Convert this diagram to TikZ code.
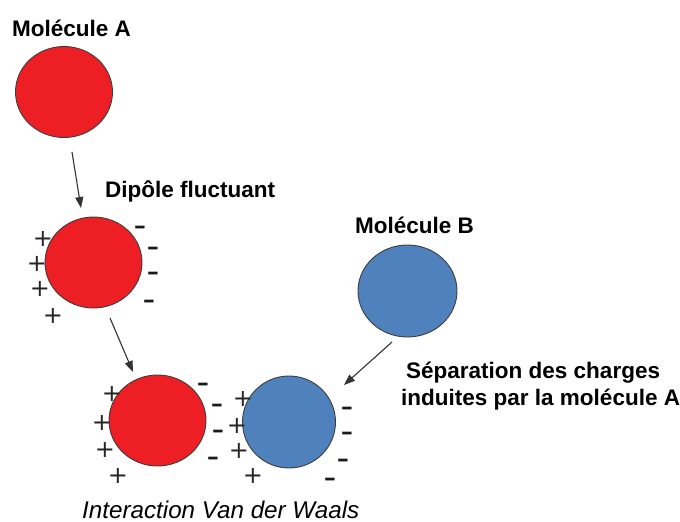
\documentclass[tikz,border=0pt]{standalone}
\usepackage{fontspec}
\setmainfont{Liberation Sans}
\newfontfamily\chargefont{DejaVu Sans}
\usetikzlibrary{shapes.geometric,arrows.meta}
\definecolor{molred}{RGB}{237,30,36}
\definecolor{molblue}{RGB}{79,129,189}
\definecolor{rim}{RGB}{60,60,60}
\tikzset{
  mol/.style={ellipse, draw=rim, line width=0.9pt, inner sep=0pt,
              minimum width=97pt, minimum height=91pt},
  redmol/.style={mol, fill=molred},
  bluemol/.style={mol, fill=molblue},
  caption/.style={anchor=base west, inner sep=0pt,
                font=\fontsize{22.5}{26}\selectfont\bfseries},
  plussign/.style={inner sep=0pt, text=black!85,
                   font=\chargefont\fontsize{24}{24}\selectfont},
  minussign/.style={inner sep=0pt, text=black!90, transform shape,
                    xscale=1.6, font=\fontsize{23}{23}\selectfont\bfseries},
  arr/.style={draw=black!80, line width=1.1pt,
              -{Triangle[length=11pt,width=8pt]}}
}
\begin{document}
\begin{tikzpicture}[x=1pt,y=-1pt]
  \useasboundingbox (0,0) rectangle (680,522);

  % molecules
  \node[redmol]  (A)  at (64,92)      {};
  \node[redmol]  (D)  at (93.5,262.5) {};
  \node[redmol]  (R)  at (157.5,420.5){};
  \node[bluemol, minimum width=99pt, minimum height=92pt] (B) at (407.5,291) {};
  \node[bluemol, minimum width=93pt, minimum height=92pt] (Bi) at (289,422) {};

  % labels
  \node[caption] (tA) at (12,36)   {Molécule A};
  \node[caption] (tD) at (105,197) {Dipôle fluctuant};
  \node[caption] (tB) at (355,233) {Molécule B};
  \node[caption] (tS1) at (406,378) {Séparation des charges};
  \node[caption] (tS2) at (401,405) {induites par la molécule A};
  \node[anchor=base west, inner sep=0pt,
        font=\fontsize{24.2}{27}\selectfont\itshape] (tI) at (82,518)
        {Interaction Van der Waals};

  % charges of the fluctuating dipole
  \foreach \x/\y [count=\i] in {43/239,37/264,40/289,53/316}
    \node[plussign] (dp\i) at (\x,\y) {+};
  \foreach \x/\y [count=\i] in {140/230,153/251,153/276,149/304}
    \node[minussign] (dm\i) at (\x,\y) {-};

  % charges of the interacting pair
  \foreach \x/\y [count=\i] in {112/394,102/423,105/450,118/476}
    \node[plussign] (rp\i) at (\x,\y) {+};
  \foreach \x/\y [count=\i] in {203/387,217/408,218/434,213/461}
    \node[minussign] (rm\i) at (\x,\y) {-};
  \foreach \x/\y [count=\i] in {243/399,237/426,239/451,253/476}
    \node[plussign] (bp\i) at (\x,\y) {+};
  \foreach \x/\y [count=\i] in {347/411,347/436,343/463,330/482}
    \node[minussign] (bm\i) at (\x,\y) {-};

  % arrows
  \coordinate (a1s) at (72,152);  \coordinate (a1e) at (81,208);
  \coordinate (a2s) at (110,318); \coordinate (a2e) at (133,372);
  \coordinate (a3s) at (392,342); \coordinate (a3e) at (344,385);
  \draw[arr] (a1s) -- (a1e);
  \draw[arr] (a2s) -- (a2e);
  \draw[arr] (a3s) -- (a3e);
\end{tikzpicture}
\end{document}
